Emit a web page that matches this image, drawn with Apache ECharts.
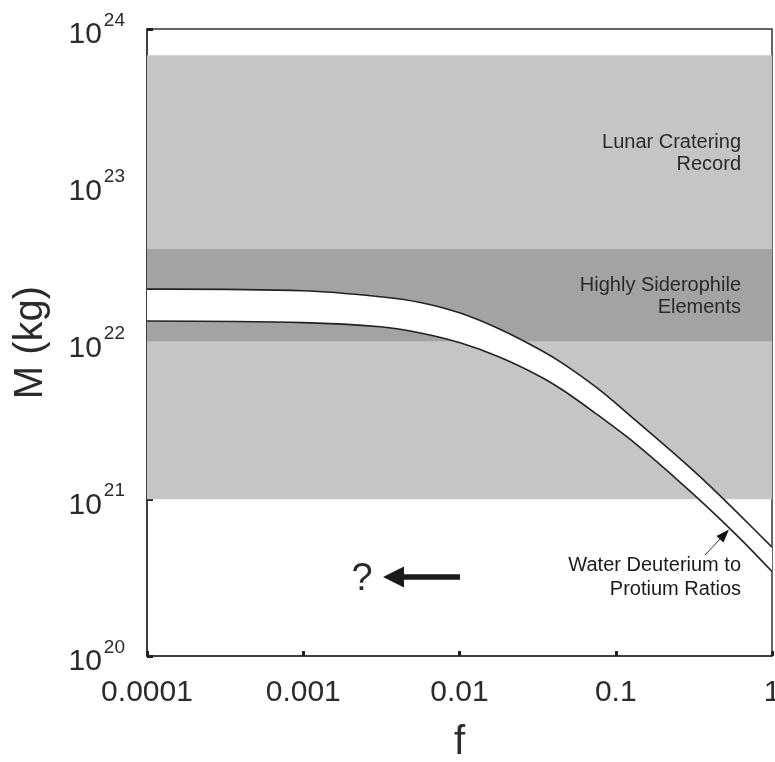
<!DOCTYPE html>
<html>
<head>
<meta charset="utf-8">
<script src="https://cdn.jsdelivr.net/npm/echarts@6/dist/echarts.min.js"></script>
<style>
  html, body { margin: 0; padding: 0; background: #ffffff; }
  #chart { width: 775px; height: 762px; }
</style>
</head>
<body>
<div id="chart"></div>
<script>
// ---- data ----
const fValues = [0.0001, 0.001, 0.00312, 0.00562, 0.0101, 0.0183, 0.033, 0.0465, 0.0767, 0.125, 0.236, 0.389, 0.632, 1];
const upperM  = [2.19e22, 2.14e22, 1.96e22, 1.80e22, 1.54e22, 1.21e22, 8.95e21, 7.28e21, 5.09e21, 3.38e21, 1.96e21, 1.25e21, 7.80e20, 4.95e20];
const lowerM  = [1.37e22, 1.34e22, 1.26e22, 1.15e22, 9.95e21, 8.02e21, 6.05e21, 4.92e21, 3.45e21, 2.39e21, 1.39e21, 8.85e20, 5.55e20, 3.46e20];

const bandNames = ['Lunar Cratering Record', 'Highly Siderophile Elements'];
const bandLow   = [1e21, 1.02e22];
const bandHigh  = [6.8e23, 3.95e22];

const xTickLabels = ['0.0001', '0.001', '0.01', '0.1', '1'];
const yTickExponents = ['20', '21', '22', '23', '24'];

const xMin = 0.0001, xMax = 1, yMin = 1e20, yMax = 1e24;

// ---- chart ----
const chart = echarts.init(document.getElementById('chart'), null, { renderer: 'canvas' });
const FONT = '"Liberation Sans", Arial, Helvetica, sans-serif';
const SMOOTH = 0.35;

function bandRender(params, api) {
  const p1 = api.coord([api.value(0), api.value(3)]);
  const p2 = api.coord([api.value(1), api.value(2)]);
  const colors = ['#c5c5c5', '#a3a3a3'];
  return {
    type: 'rect',
    shape: { x: p1[0], y: p1[1], width: p2[0] - p1[0], height: p2[1] - p1[1] },
    style: { fill: colors[params.dataIndex] }
  };
}

function curveRender(params, api) {
  if (params.dataIndex !== 0) return;
  const up = fValues.map((f, i) => api.coord([f, upperM[i]]));
  const lo = fValues.map((f, i) => api.coord([f, lowerM[i]]));
  const n = up.length;
  const poly = [up[0]].concat(up, [up[n - 1]], [lo[n - 1]], lo.slice().reverse(), [lo[0]]);
  return {
    type: 'group',
    children: [
      { type: 'polygon', shape: { points: poly, smooth: SMOOTH }, style: { fill: '#ffffff', stroke: null } },
      { type: 'polyline', shape: { points: up, smooth: SMOOTH }, style: { fill: null, stroke: '#222', lineWidth: 1.6 } },
      { type: 'polyline', shape: { points: lo, smooth: SMOOTH }, style: { fill: null, stroke: '#222', lineWidth: 1.6 } }
    ]
  };
}

const option = {
  backgroundColor: '#ffffff',
  animation: false,
  grid: {
    left: 147, right: 3, top: 29, bottom: 106,
    outerBoundsMode: 'none', containLabel: false,
    show: true, borderColor: '#333', borderWidth: 1.5, backgroundColor: '#ffffff'
  },
  xAxis: {
    type: 'log', logBase: 10, min: xMin, max: xMax,
    name: 'f', nameLocation: 'middle', nameGap: 67,
    nameTextStyle: { fontFamily: FONT, fontSize: 40, color: '#2b2b2b' },
    axisLine: { show: true, lineStyle: { color: '#333', width: 1.5 } },
    axisTick: { show: true, inside: true, length: 5, lineStyle: { color: '#222', width: 3 } },
    minorTick: { show: false },
    splitLine: { show: false },
    axisLabel: {
      show: true, margin: 22, fontFamily: FONT, fontSize: 30, color: '#2b2b2b',
      showMinLabel: true, showMaxLabel: true, hideOverlap: false,
      formatter: function (v) {
        const i = Math.round(Math.log10(v)) + 4;
        return xTickLabels[i] !== undefined ? xTickLabels[i] : '';
      }
    }
  },
  yAxis: {
    type: 'log', logBase: 10, min: yMin, max: yMax,
    name: 'M (kg)', nameLocation: 'middle', nameGap: 96, nameRotate: 90,
    nameTextStyle: { fontFamily: FONT, fontSize: 40, color: '#2b2b2b' },
    axisLine: { show: true, lineStyle: { color: '#333', width: 1.5 } },
    axisTick: { show: true, inside: true, length: 6, lineStyle: { color: '#222', width: 3 } },
    minorTick: { show: false },
    splitLine: { show: false },
    axisLabel: {
      show: true, margin: 22, showMinLabel: true, showMaxLabel: true, hideOverlap: false,
      padding: [12, 0, 0, 0],
      formatter: function (v) {
        const i = Math.round(Math.log10(v)) - 20;
        return '{b|10}{s|' + yTickExponents[i] + '}';
      },
      rich: {
        b: { fontFamily: FONT, fontSize: 30, color: '#2b2b2b', lineHeight: 48, verticalAlign: 'middle' },
        s: { fontFamily: FONT, fontSize: 19, color: '#2b2b2b', lineHeight: 48, verticalAlign: 'top', padding: [0, 0, 0, 2] }
      }
    }
  },
  graphic: [
    { type: 'text', z: 100, style: { text: 'Lunar Cratering\nRecord', x: 741, y: 153, align: 'right', verticalAlign: 'middle', font: '20px ' + FONT, fill: '#2a2a2a', lineHeight: 22 } },
    { type: 'text', z: 100, style: { text: 'Highly Siderophile\nElements', x: 741, y: 296, align: 'right', verticalAlign: 'middle', font: '20px ' + FONT, fill: '#2a2a2a', lineHeight: 22 } },
    { type: 'text', z: 100, style: { text: 'Water Deuterium to\nProtium Ratios', x: 741, y: 577, align: 'right', verticalAlign: 'middle', font: '20px ' + FONT, fill: '#1a1a1a', lineHeight: 24 } },
    { type: 'text', z: 100, style: { text: '?', x: 362, y: 580, align: 'center', verticalAlign: 'middle', font: '38px ' + FONT, fill: '#2a2a2a' } },
    { type: 'line', z: 100, shape: { x1: 401, y1: 577, x2: 460, y2: 577 }, style: { stroke: '#1a1a1a', lineWidth: 5.5 } },
    { type: 'polygon', z: 100, shape: { points: [[383, 577], [404, 566.5], [404, 587.5]] }, style: { fill: '#1a1a1a' } },
    { type: 'line', z: 100, shape: { x1: 705, y1: 555, x2: 722, y2: 537 }, style: { stroke: '#333', lineWidth: 1 } },
    { type: 'polygon', z: 100, shape: { points: [[729, 529.5], [716.5, 536], [723.5, 542.5]] }, style: { fill: '#111' } }
  ],
  series: [
    {
      name: 'bands', type: 'custom', z: 1, clip: true,
      renderItem: bandRender,
      encode: { x: [0, 1], y: [2, 3] },
      data: bandNames.map((n, i) => [xMin, xMax, bandLow[i], bandHigh[i]])
    },
    {
      name: 'Water Deuterium to Protium Ratios', type: 'custom', z: 2, clip: true,
      renderItem: curveRender,
      encode: { x: 0, y: 1 },
      data: fValues.map((f, i) => [f, upperM[i]])
    }
  ]
};
chart.setOption(option);
</script>
</body>
</html>
